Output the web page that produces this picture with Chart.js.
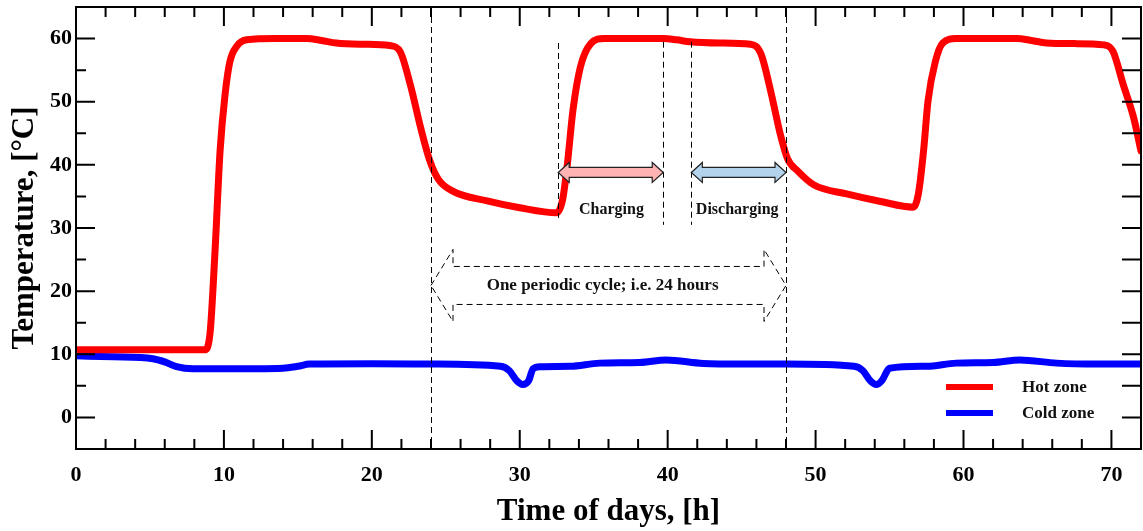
<!DOCTYPE html>
<html>
<head>
<meta charset="utf-8">
<script src="https://cdn.jsdelivr.net/npm/chart.js@4.4.1/dist/chart.umd.min.js"></script>
<style>
  html, body { margin: 0; padding: 0; background: #fff; }
  #wrap { width: 1143px; height: 531px; }
</style>
</head>
<body>
<div id="wrap"><canvas id="chart"></canvas></div>
<script>
// Hot zone (red) - time [h] and temperature [°C]
const hotTime = [0, 8.7, 9.06, 9.4, 9.74, 10.08, 10.41, 10.87, 11.54, 13.5, 15.6, 16.6, 17.6, 19.5, 21.2, 21.9, 22.6, 23.3, 23.9, 24.5, 25.5, 27.8, 30.0, 32.5,
                 32.9, 33.2, 33.6, 34.1, 34.8, 35.7, 37.7, 39.7, 40.6, 41.5, 43.5, 45.6, 46.3, 47.0, 47.6, 48.1, 48.8, 49.9, 52.1, 54.4, 56.6,
                 56.95, 57.3, 57.6, 58.1, 58.6, 59.5, 61.5, 63.6, 64.6, 65.6, 67.5, 69.5, 70.1, 70.8, 71.5, 72];
const hotTemp = [10.7, 10.7, 13.3, 26.4, 42.2, 51.2, 56.4, 58.8, 59.8, 60, 60, 59.7, 59.3, 59.1, 58.9, 58, 52.7, 45.9, 40.8, 37.7, 35.8, 34.3, 33.2, 32.4,
                 34.5, 39.7, 48.7, 55.5, 59.2, 60, 60, 60, 59.8, 59.5, 59.3, 59.1, 57.6, 51.3, 45, 41, 39, 36.8, 35.4, 34.2, 33.3,
                 35.4, 42.2, 50.1, 56.4, 59.3, 60, 60, 60, 59.7, 59.3, 59.2, 59.0, 58, 52.7, 47.5, 42.2];

// Cold zone (blue)
const coldTime = [0, 2.5, 5.2, 6.0, 6.8, 7.9, 10, 14, 15.0, 15.8, 20, 24, 28.7, 29.3, 29.8, 30.2, 30.6, 30.9, 31.4, 33.4, 35.4, 38.1, 39.9, 42.4, 45, 48,
                  52.6, 53.2, 53.7, 54.1, 54.5, 55.0, 57.5, 59.5, 62.0, 63.8, 66.3, 69, 72];
const coldTemp = [9.75, 9.6, 9.3, 8.8, 8.04, 7.7, 7.7, 7.8, 8.1, 8.45, 8.5, 8.45, 8.1, 7.4, 5.8, 5.2, 5.8, 7.7, 8.04, 8.1, 8.6, 8.7, 9.1, 8.55, 8.45, 8.45,
                  8.1, 7.4, 5.8, 5.2, 5.9, 7.8, 8.1, 8.6, 8.7, 9.1, 8.6, 8.45, 8.45];

const xTickValues = [0, 10, 20, 30, 40, 50, 60, 70];
const yTickValues = [0, 10, 20, 30, 40, 50, 60];

// annotation positions in data units
const cycleBounds = [24, 48];
const phaseLines = [[32.6, 59.3, 31.6], [39.7, 59.5, 30.5], [41.6, 59.5, 30.5]];
const chargeArrow = [32.6, 39.7, 38.8];
const dischargeArrow = [41.6, 48, 38.8];
const cycleArrow = [24, 48, 20.9];
const notes = [['Charging', 36.2, 32.9, 16], ['Discharging', 44.7, 32.9, 16], ['One periodic cycle; i.e. 24 hours', 35.6, 20.9, 17]];

const FONT = "'Liberation Serif', 'Times New Roman', serif";

function blockArrow(ctx, x1, x2, y, body, head, len) {
    ctx.beginPath();
    ctx.moveTo(x1, y);
    ctx.lineTo(x1 + len, y - head);
    ctx.lineTo(x1 + len, y - body);
    ctx.lineTo(x2 - len, y - body);
    ctx.lineTo(x2 - len, y - head);
    ctx.lineTo(x2, y);
    ctx.lineTo(x2 - len, y + head);
    ctx.lineTo(x2 - len, y + body);
    ctx.lineTo(x1 + len, y + body);
    ctx.lineTo(x1 + len, y + head);
    ctx.closePath();
}

const frameAndNotes = {
    id: 'frameAndNotes',
    afterDatasetsDraw(chart) {
        const { ctx, chartArea: a, scales: { x, y } } = chart;
        ctx.save();

        // box and inward ticks
        ctx.strokeStyle = '#000';
        ctx.lineWidth = 2;
        ctx.strokeRect(a.left, a.top, a.right - a.left, a.bottom - a.top);
        ctx.beginPath();
        for (let v = 0; v <= 72; v += 2) {
            const px = x.getPixelForValue(v);
            const len = v % 10 === 0 ? 19 : 10;
            ctx.moveTo(px, a.bottom); ctx.lineTo(px, a.bottom - len);
            ctx.moveTo(px, a.top); ctx.lineTo(px, a.top + len);
        }
        for (let v = -5; v <= 65; v += 5) {
            const py = y.getPixelForValue(v);
            const len = v % 10 === 0 ? 19 : 10;
            ctx.moveTo(a.left, py); ctx.lineTo(a.left + len, py);
            ctx.moveTo(a.right, py); ctx.lineTo(a.right - 19, py);
        }
        ctx.stroke();

        // dashed markers
        ctx.lineWidth = 1;
        ctx.setLineDash([6, 4]);
        ctx.beginPath();
        cycleBounds.forEach(t => {
            const px = Math.round(x.getPixelForValue(t)) + 0.5;
            ctx.moveTo(px, a.top); ctx.lineTo(px, a.bottom);
        });
        phaseLines.forEach(([t, y1, y2]) => {
            const px = Math.round(x.getPixelForValue(t)) + 0.5;
            ctx.moveTo(px, y.getPixelForValue(y1)); ctx.lineTo(px, y.getPixelForValue(y2));
        });
        ctx.stroke();

        // big dashed cycle arrow
        blockArrow(ctx, x.getPixelForValue(cycleArrow[0]), x.getPixelForValue(cycleArrow[1]),
            y.getPixelForValue(cycleArrow[2]), 19, 36, 22);
        ctx.fillStyle = '#fff';
        ctx.fill();
        ctx.stroke();
        ctx.setLineDash([]);

        // charging / discharging arrows
        [[chargeArrow, '#ffb3b3'], [dischargeArrow, '#b3d3ec']].forEach(([arr, fill]) => {
            blockArrow(ctx, x.getPixelForValue(arr[0]), x.getPixelForValue(arr[1]),
                y.getPixelForValue(arr[2]), 5, 10, 11);
            ctx.fillStyle = fill;
            ctx.fill();
            ctx.lineWidth = 1.2;
            ctx.strokeStyle = '#222';
            ctx.stroke();
        });

        // texts
        ctx.fillStyle = '#111';
        ctx.textAlign = 'center';
        ctx.textBaseline = 'middle';
        notes.forEach(([txt, tx, ty, size]) => {
            ctx.font = 'bold ' + size + 'px ' + FONT;
            ctx.fillText(txt, x.getPixelForValue(tx), y.getPixelForValue(ty));
        });

        // legend
        ctx.textAlign = 'left';
        ctx.font = 'bold 17px ' + FONT;
        chart.data.datasets.forEach((ds, i) => {
            const ly = a.bottom - 62 + i * 26;
            ctx.strokeStyle = ds.borderColor;
            ctx.lineWidth = 6;
            ctx.beginPath();
            ctx.moveTo(a.right - 195, ly); ctx.lineTo(a.right - 148, ly);
            ctx.stroke();
            ctx.fillStyle = '#111';
            ctx.fillText(ds.label, a.right - 119, ly + 1);
        });

        ctx.restore();
    }
};

const toPoints = (ts, vs) => ts.map((t, i) => ({ x: t, y: vs[i] }));

// keep chart area exactly where the axes say, no extra label padding
const noEdgePadding = s => { s.paddingTop = 0; s.paddingBottom = 0; s.paddingLeft = 0; s.paddingRight = 0; };

new Chart(document.getElementById('chart'), {
    type: 'line',
    data: {
        datasets: [
            {
                label: 'Hot zone',
                data: toPoints(hotTime, hotTemp),
                borderColor: '#ff0000',
                borderWidth: 7,
                pointRadius: 0,
                cubicInterpolationMode: 'monotone',
                borderCapStyle: 'round',
                borderJoinStyle: 'round',
                fill: false,
            },
            {
                label: 'Cold zone',
                data: toPoints(coldTime, coldTemp),
                borderColor: '#0000ff',
                borderWidth: 7,
                pointRadius: 0,
                cubicInterpolationMode: 'monotone',
                borderCapStyle: 'round',
                borderJoinStyle: 'round',
                fill: false,
            },
        ],
    },
    options: {
        responsive: true,
        maintainAspectRatio: false,
        animation: false,
        layout: { padding: { top: 7, right: 2, left: 0, bottom: 0 } },
        plugins: { legend: { display: false }, tooltip: { enabled: false } },
        scales: {
            x: {
                type: 'linear',
                min: 0,
                max: 72,
                afterBuildTicks: s => { s.ticks = xTickValues.map(v => ({ value: v })); },
                afterFit: s => { s.height = 82; noEdgePadding(s); },
                grid: { display: false, drawTicks: false },
                border: { display: false },
                ticks: {
                    color: '#000',
                    padding: 13,
                    maxRotation: 0,
                    font: { family: FONT, size: 22, weight: 'bold' },
                },
                title: {
                    display: true,
                    text: 'Time of days, [h]',
                    color: '#000',
                    padding: { top: 0, bottom: 0 },
                    font: { family: FONT, size: 31, weight: 'bold' },
                },
            },
            y: {
                min: -5,
                max: 65,
                afterBuildTicks: s => { s.ticks = yTickValues.map(v => ({ value: v })); },
                afterFit: s => { s.width = 76; noEdgePadding(s); },
                grid: { display: false, drawTicks: false },
                border: { display: false },
                ticks: {
                    color: '#000',
                    padding: 4,
                    font: { family: FONT, size: 22, weight: 'bold' },
                },
                title: {
                    display: true,
                    text: 'Temperature, [°C]',
                    color: '#000',
                    padding: { top: 6, bottom: 0 },
                    font: { family: FONT, size: 31, weight: 'bold' },
                },
            },
        },
    },
    plugins: [frameAndNotes],
});
</script>
</body>
</html>
